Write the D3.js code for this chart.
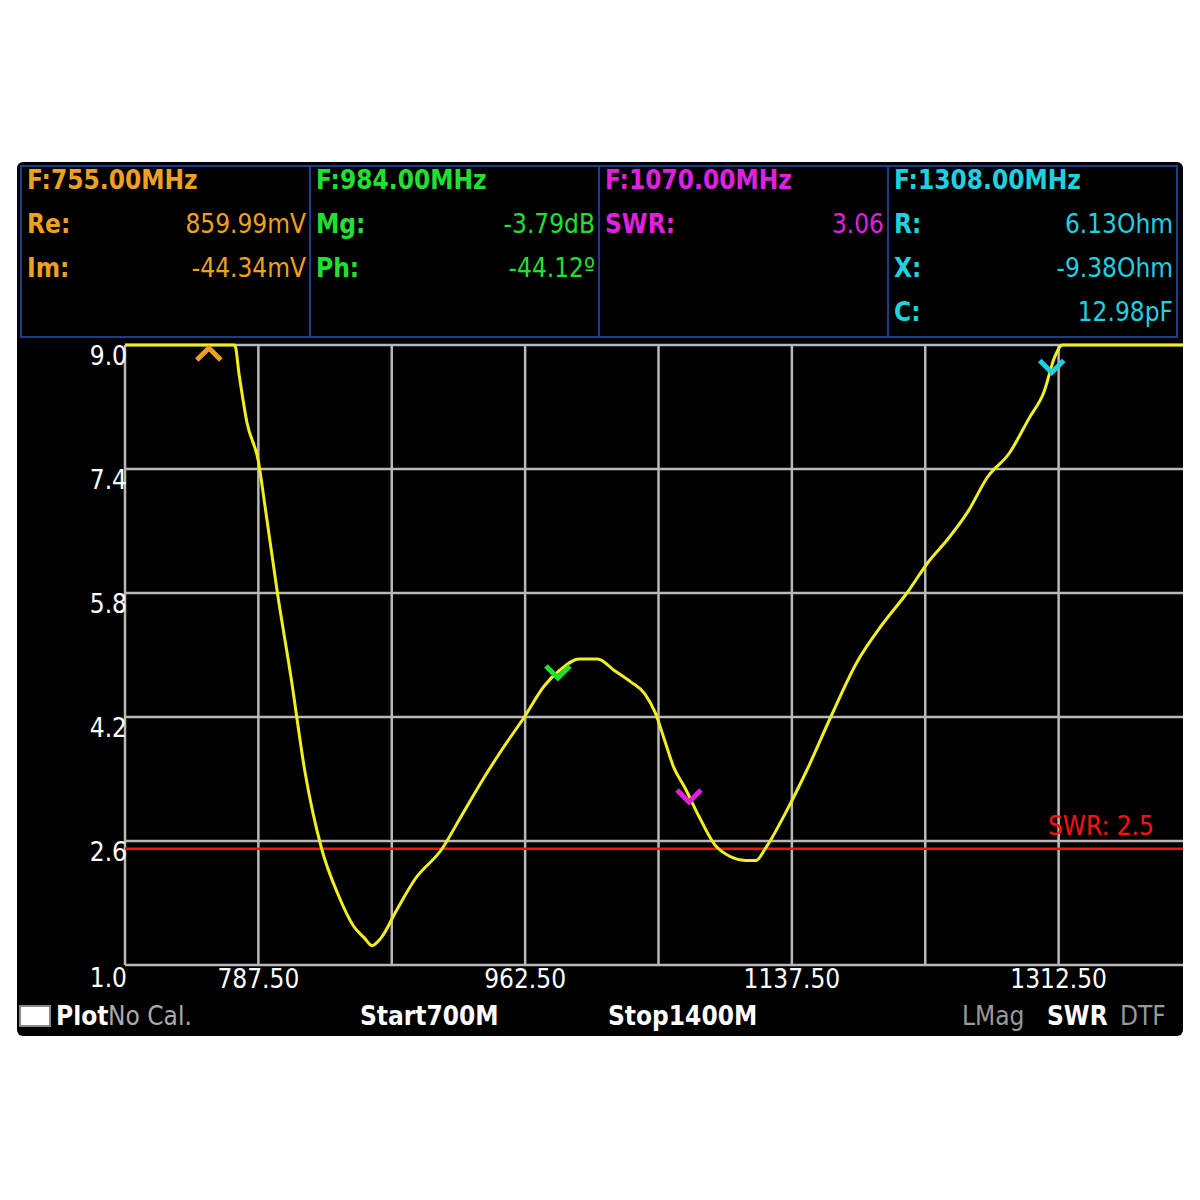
<!DOCTYPE html>
<html><head><meta charset="utf-8">
<script src="https://cdn.jsdelivr.net/npm/d3@7"></script>
<style>body{margin:0;background:#fff}svg{display:block}text{font-family:"DejaVu Sans Condensed","DejaVu Sans",sans-serif}</style>
</head><body><div id="c"></div>
<script>
const freqTicks = [787.5, 962.5, 1137.5, 1312.5];
const swrTicks = [9.0, 7.4, 5.8, 4.2, 2.6, 1.0];
const traceFreq = [700, 772, 775, 780, 787.5, 792, 800, 809, 818, 829, 840, 850, 857, 862, 868, 878, 890, 908, 920, 935, 948, 962, 975, 985, 998, 1010, 1021, 1032, 1041, 1048, 1054, 1060, 1067, 1077, 1087, 1097, 1107, 1114, 1120, 1133, 1147, 1163, 1180, 1197, 1213, 1227, 1240, 1253, 1266, 1280, 1293, 1303, 1310, 1315, 1400];
const traceSwr  = [9.0, 9.0, 8.6, 8.0, 7.5, 6.9, 5.8, 4.7, 3.5, 2.5, 1.9, 1.5, 1.35, 1.25, 1.35, 1.7, 2.1, 2.5, 2.9, 3.4, 3.8, 4.2, 4.6, 4.8, 4.95, 4.95, 4.8, 4.65, 4.5, 4.25, 3.9, 3.55, 3.3, 2.9, 2.55, 2.4, 2.35, 2.35, 2.5, 2.95, 3.5, 4.2, 4.9, 5.4, 5.8, 6.2, 6.5, 6.85, 7.3, 7.6, 8.05, 8.4, 8.85, 9.0, 9.0];
const markerFreq = [755, 984, 1070, 1308];
const markerColor = ["#f0a020", "#20e030", "#e020e0", "#20d0e0"];
const markerUp = [true, false, false, false];
const panelLines = [
  [["F:755.00MHz", ""], ["Re:", "859.99mV"], ["Im:", "-44.34mV"]],
  [["F:984.00MHz", ""], ["Mg:", "-3.79dB"], ["Ph:", "-44.12º"]],
  [["F:1070.00MHz", ""], ["SWR:", "3.06"]],
  [["F:1308.00MHz", ""], ["R:", "6.13Ohm"], ["X:", "-9.38Ohm"], ["C:", "12.98pF"]]
];
const swrLimit = 2.5;

const svg = d3.select("#c").append("svg").attr("width", 1200).attr("height", 1200);
svg.append("rect").attr("x", 17).attr("y", 162).attr("width", 1166).attr("height", 874).attr("rx", 6).attr("fill", "#000");
svg.append("clipPath").attr("id", "clip").append("rect").attr("x", 17).attr("y", 162).attr("width", 1166).attr("height", 874);

const x = d3.scaleLinear().domain([700, 1400]).range([125, 1192]);
const y = d3.scaleLinear().domain([1.0, 9.0]).range([965, 345]);

// header panels
const pw = 289;
panelLines.forEach((lines, i) => {
  const x0 = 21 + i * pw;
  svg.append("rect").attr("x", x0).attr("y", 166).attr("width", pw).attr("height", 171)
    .attr("fill", "none").attr("stroke", "#1c3c8c").attr("stroke-width", 2);
  lines.forEach((l, j) => {
    const ty = 181 + j * 44;
    svg.append("text").attr("x", x0 + 6).attr("y", ty).attr("fill", markerColor[i])
      .attr("font-size", 26).attr("font-weight", "bold").attr("dominant-baseline", "middle").text(l[0]);
    if (l[1]) svg.append("text").attr("x", x0 + pw - 4).attr("y", ty).attr("fill", markerColor[i])
      .attr("font-size", 26).attr("text-anchor", "end").attr("dominant-baseline", "middle").text(l[1]);
  });
});

// grid
const g = svg.append("g").attr("clip-path", "url(#clip)");
const vLines = d3.range(700, 1400.1, 87.5);
g.selectAll(".v").data(vLines).join("line")
  .attr("x1", d => x(d)).attr("x2", d => x(d)).attr("y1", 345).attr("y2", 965)
  .attr("stroke", "#b8b8b8").attr("stroke-width", 2.5);
g.selectAll(".h").data(swrTicks).join("line")
  .attr("x1", 125).attr("x2", 1183).attr("y1", d => y(d)).attr("y2", d => y(d))
  .attr("stroke", "#b8b8b8").attr("stroke-width", 2.5);

svg.selectAll(".yl").data(swrTicks).join("text")
  .attr("x", 127).attr("y", d => y(d) + (d === 1.0 ? 22 : 20)).attr("text-anchor", "end")
  .attr("fill", "#fff").attr("font-size", 26).text(d => d.toFixed(1));
svg.selectAll(".xl").data(freqTicks).join("text")
  .attr("x", d => x(d)).attr("y", 988).attr("text-anchor", "middle")
  .attr("fill", "#fff").attr("font-size", 26).text(d => d.toFixed(2));

// swr limit
svg.append("line").attr("x1", 125).attr("x2", 1183).attr("y1", y(swrLimit)).attr("y2", y(swrLimit))
  .attr("stroke", "#ff1010").attr("stroke-width", 2.5);
svg.append("text").attr("x", 1048).attr("y", y(swrLimit) - 14).attr("fill", "#ff1010")
  .attr("font-size", 26).text("SWR: 2.5");

// trace
const pts = traceFreq.map((f, i) => [f, traceSwr[i]]);
const tg = svg.append("g").attr("clip-path", "url(#clip)");
tg.append("path").datum(pts)
  .attr("d", d3.line().x(d => x(d[0])).y(d => y(d[1])).curve(d3.curveMonotoneX))
  .attr("fill", "none").attr("stroke", "#f0f020").attr("stroke-width", 3);

// markers
const interp = f => { const i = d3.bisectLeft(traceFreq, f); const a = traceFreq[i-1], b = traceFreq[i];
  return traceSwr[i-1] + (traceSwr[i] - traceSwr[i-1]) * (f - a) / (b - a); };
markerFreq.forEach((f, i) => {
  const mx = x(f), my = markerUp[i] ? 352 : y(Math.min(interp(f), 9)) + 4;
  const d = markerUp[i] ? `M${mx-12},${my+8}L${mx},${my-4}L${mx+12},${my+8}` : `M${mx-12},${my-10}L${mx},${my+2}L${mx+12},${my-10}`;
  svg.append("path").attr("d", d).attr("fill", "none").attr("stroke", markerColor[i]).attr("stroke-width", 5);
});

// bottom bar
svg.append("rect").attr("x", 20).attr("y", 1006).attr("width", 30).attr("height", 20).attr("fill", "#fff").attr("stroke", "#888").attr("stroke-width", 2);
const bottom = [["Plot", 56, "#fff"], ["No Cal.", 108, "#aaa"], ["Start700M", 360, "#fff"],
  ["Stop1400M", 608, "#fff"], ["LMag", 962, "#999"], ["SWR", 1047, "#fff"], ["DTF", 1120, "#999"]];
bottom.forEach(b => svg.append("text").attr("x", b[1]).attr("y", 1025).attr("fill", b[2])
  .attr("font-size", 26).attr("font-weight", b[2] === "#fff" ? "bold" : "normal").text(b[0]));
</script></body></html>
